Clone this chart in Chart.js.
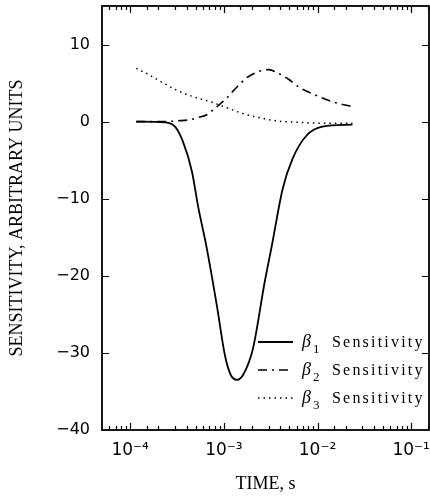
<!DOCTYPE html>
<html>
<head>
<meta charset="utf-8">
<script src="https://cdn.jsdelivr.net/npm/chart.js@4"></script>
<style>
  html, body { margin: 0; padding: 0; background: #fff; }
</style>
</head>
<body>
<canvas id="chart" width="430" height="498"></canvas>
<script>
// values (time in s, sensitivity in arbitrary units)
const b1Time = [1.16e-4, 2.36e-4, 3.01e-4, 3.66e-4, 4.57e-4, 5.29e-4, 6.59e-4, 8.43e-4, 1.03e-3, 1.19e-3, 1.38e-3, 1.63e-3, 2.04e-3, 2.73e-3, 3.24e-3, 4.25e-3, 5.42e-3, 7.64e-3, 1.13e-2, 2.36e-2];
const b1Sens = [0, -0.1, -0.65, -2.6, -6.5, -10.9, -16.5, -23.9, -30.4, -32.9, -33.5, -32.7, -29.5, -20.8, -16.2, -8.7, -4.8, -1.8, -0.65, -0.4];

const b2Time = [1.16e-4, 2.36e-4, 3.16e-4, 4.35e-4, 5.56e-4, 6.59e-4, 8.02e-4, 9.53e-4, 1.10e-3, 1.38e-3, 1.76e-3, 2.36e-3, 3.01e-3, 3.85e-3, 4.91e-3, 6.28e-3, 9.75e-3, 1.52e-2, 2.36e-2];
const b2Sens = [0, 0, 0.1, 0.25, 0.6, 0.9, 1.7, 2.5, 3.2, 4.5, 5.7, 6.5, 6.75, 6.25, 5.5, 4.5, 3.4, 2.5, 1.95];

const b3Time = [1.16e-4, 1.52e-4, 2.19e-4, 3.24e-4, 4.68e-4, 7.10e-4, 1.08e-3, 1.59e-3, 2.41e-3, 3.94e-3, 6.44e-3, 1.05e-2, 2.36e-2];
const b3Sens = [6.9, 6.2, 5.1, 4.0, 3.25, 2.6, 1.8, 1.05, 0.5, 0.05, -0.1, -0.2, -0.2];

const legendSubscripts = ['1', '2', '3'];
const legendText = 'Sensitivity';

const xTickValues = [1e-4, 1e-3, 1e-2, 1e-1];
const xTickLabels = ['10\u207B\u2074', '10\u207B\u00B3', '10\u207B\u00B2', '10\u207B\u00B9'];
const yTickValues = [-40, -30, -20, -10, 0, 10];
const yTickLabels = ['\u221240', '\u221230', '\u221220', '\u221210', '0', '10'];

const toPoints = (xs, ys) => xs.map((t, i) => ({ x: t, y: ys[i] }));

// frame all round, with tick marks pointing inwards
const frameTicks = {
  id: 'frameTicks',
  afterDraw(chart) {
    const { ctx, chartArea: a, scales: { x, y } } = chart;
    ctx.save();
    ctx.strokeStyle = '#000';
    ctx.lineWidth = 1.8;
    ctx.strokeRect(a.left, a.top, a.right - a.left, a.bottom - a.top);
    ctx.lineWidth = 1.2;
    ctx.beginPath();
    x.ticks.forEach((t) => {
      if (t.value <= x.min * 1.001 || t.value >= x.max * 0.999) return;
      const px = Math.round(x.getPixelForValue(t.value)) + 0.5;
      const len = t.label ? 7 : 4;
      ctx.moveTo(px, a.bottom); ctx.lineTo(px, a.bottom - len);
      ctx.moveTo(px, a.top); ctx.lineTo(px, a.top + len);
    });
    y.ticks.forEach((t) => {
      if (t.value <= y.min || t.value >= y.max) return;
      const py = Math.round(y.getPixelForValue(t.value)) + 0.5;
      ctx.moveTo(a.left, py); ctx.lineTo(a.left + 7, py);
      ctx.moveTo(a.right, py); ctx.lineTo(a.right - 7, py);
    });
    ctx.stroke();
    ctx.restore();
  }
};

// legend sits inside the plot, lower right
const innerLegend = {
  id: 'innerLegend',
  afterDatasetsDraw(chart) {
    const { ctx, chartArea: a } = chart;
    chart.data.datasets.forEach((ds, i) => {
      const yy = a.bottom - 88 + i * 28;
      const x0 = a.left + 156;
      ctx.save();
      ctx.strokeStyle = ds.borderColor;
      ctx.lineWidth = ds.borderWidth;
      ctx.setLineDash(ds.borderDash || []);
      ctx.beginPath();
      ctx.moveTo(x0, yy);
      ctx.lineTo(x0 + 35, yy);
      ctx.stroke();
      ctx.setLineDash([]);
      ctx.fillStyle = '#000';
      ctx.textBaseline = 'alphabetic';
      ctx.font = 'italic 18px "Liberation Serif"';
      ctx.fillText('\u03B2', x0 + 44, yy + 5);
      ctx.font = '13px "Liberation Serif"';
      ctx.fillText(legendSubscripts[i], x0 + 55, yy + 11);
      ctx.font = '16px "Liberation Serif"';
      ctx.letterSpacing = '2.2px';
      ctx.fillText(legendText, x0 + 74, yy + 5);
      ctx.restore();
    });
  }
};

new Chart(document.getElementById('chart'), {
  type: 'line',
  data: {
    datasets: [
      {
        label: 'b1',
        data: toPoints(b1Time, b1Sens),
        borderColor: '#000',
        borderWidth: 1.8,
        borderDash: [],
        pointRadius: 0,
        cubicInterpolationMode: 'monotone'
      },
      {
        label: 'b2',
        data: toPoints(b2Time, b2Sens),
        borderColor: '#000',
        borderWidth: 1.6,
        borderDash: [9, 5, 2, 5],
        pointRadius: 0,
        cubicInterpolationMode: 'monotone'
      },
      {
        label: 'b3',
        data: toPoints(b3Time, b3Sens),
        borderColor: '#000',
        borderWidth: 1.5,
        borderDash: [1.5, 4],
        pointRadius: 0,
        cubicInterpolationMode: 'monotone'
      }
    ]
  },
  options: {
    responsive: false,
    animation: false,
    layout: { padding: { top: 6, right: 1, left: 0, bottom: 0 } },
    plugins: { legend: { display: false }, tooltip: { enabled: false } },
    scales: {
      x: {
        type: 'logarithmic',
        min: 5e-5,
        max: 0.155,
        afterFit: (s) => { s.height = 68; s.paddingLeft = 0; s.paddingRight = 0; },
        grid: { display: false, drawTicks: false },
        border: { display: false },
        ticks: {
          autoSkip: false,
          maxRotation: 0,
          padding: 10,
          color: '#000',
          font: { family: '"DejaVu Sans"', size: 17 },
          callback: (v) => {
            const i = xTickValues.findIndex((t) => Math.abs(Math.log10(v) - Math.log10(t)) < 1e-6);
            return i >= 0 ? xTickLabels[i] : '';
          }
        },
        title: {
          display: true,
          text: 'TIME, s',
          color: '#000',
          font: { family: '"Liberation Serif"', size: 18 },
          padding: { top: 0, bottom: 3 }
        }
      },
      y: {
        min: -40,
        max: 15,
        afterFit: (s) => { s.width = 102; s.paddingTop = 0; s.paddingBottom = 0; },
        afterBuildTicks: (s) => { s.ticks = yTickValues.map((v) => ({ value: v })); },
        grid: { display: false, drawTicks: false },
        border: { display: false },
        ticks: {
          padding: 12,
          color: '#000',
          font: { family: '"DejaVu Sans"', size: 16 },
          callback: (v) => yTickLabels[yTickValues.indexOf(v)]
        },
        title: {
          display: true,
          text: 'SENSITIVITY, ARBITRARY UNITS',
          color: '#000',
          font: { family: '"Liberation Serif"', size: 18 },
          padding: { top: 6, bottom: 0 }
        }
      }
    }
  },
  plugins: [frameTicks, innerLegend]
});
</script>
</body>
</html>
